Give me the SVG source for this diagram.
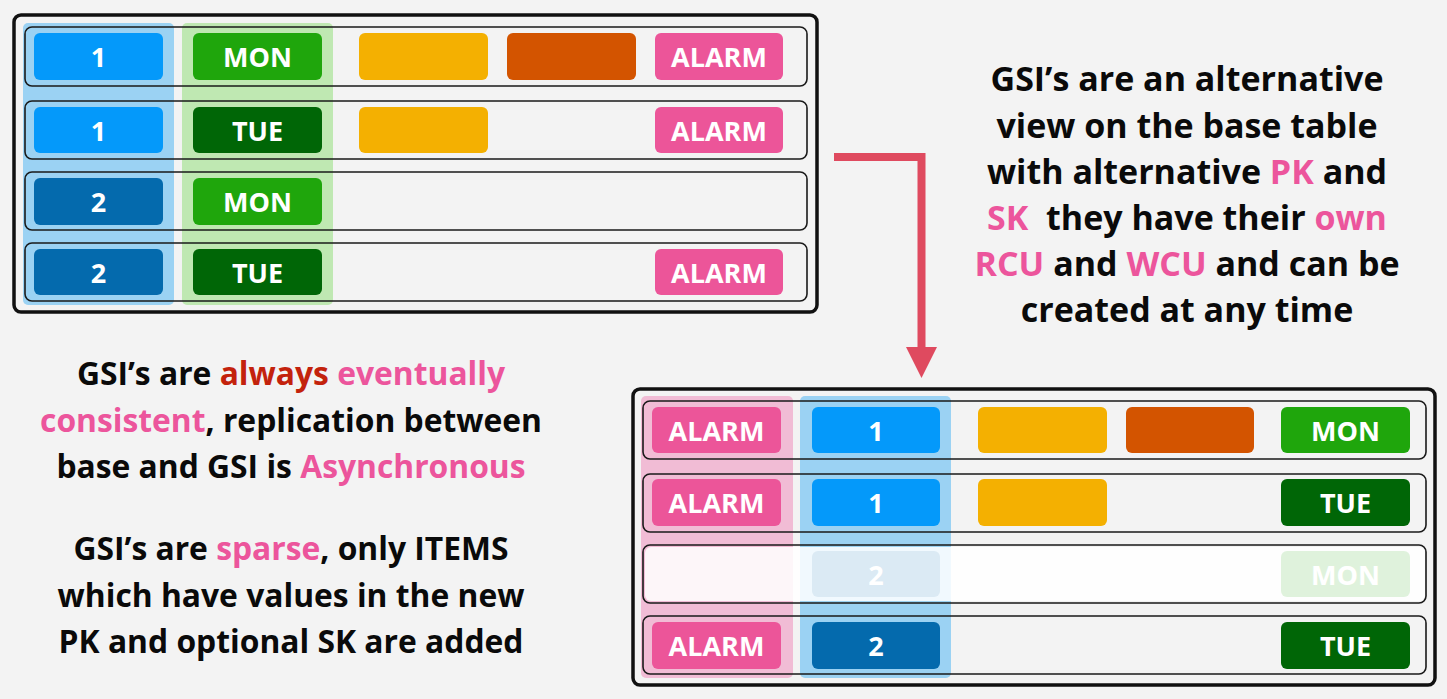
<svg xmlns="http://www.w3.org/2000/svg" width="1447" height="699" viewBox="0 0 1447 699">
<style>
.bg{fill:#f3f3f3}
.outer{fill:none;stroke:#111;stroke-width:3.5}
.row{fill:none;stroke:#1a1a1a;stroke-width:1.6}
.c{stroke:none}
.lb{fill:#0499fa}.db{fill:#046aad}.lg{fill:#1fa60c}.dg{fill:#006606}.ye{fill:#f4b001}.or{fill:#d35400}.pk{fill:#ec5599}
.ct{font-family:"Open Sans","DejaVu Sans",sans-serif;font-weight:700;font-size:27px;fill:#fff;text-anchor:middle;dominant-baseline:central}
.tx{font-family:"Open Sans","DejaVu Sans",sans-serif;font-weight:700;font-size:34px;fill:#0a0a0a;text-anchor:middle}
.tl{font-size:31.8px}
.p{fill:#ec559c}.r{fill:#c3220c}
</style>
<defs>
<marker id="ah" markerUnits="userSpaceOnUse" viewBox="0 0 31 31" markerWidth="31" markerHeight="31" refX="0" refY="15.5" orient="auto">
<path d="M0,0 L31,15.5 L0,31 Z" fill="#df4a5f"/>
</marker>
</defs>
<rect class="bg" x="0" y="0" width="1447" height="699"/>

<g id="base-table">
<rect x="23" y="23" width="151" height="282" rx="5" fill="#9bd2f3"/>
<rect x="182" y="23" width="151" height="282" rx="5" fill="#bfe8b2"/>
<rect class="outer" x="14" y="15" width="803" height="297" rx="7"/>
<rect class="row" x="25" y="27" width="782" height="59" rx="7"/>
<rect class="row" x="25" y="101" width="782" height="58" rx="7"/>
<rect class="row" x="25" y="172" width="782" height="58" rx="7"/>
<rect class="row" x="25" y="243" width="782" height="58" rx="7"/>
<g id="base-row1">
<rect class="c lb" x="34" y="33" width="129" height="47" rx="6"/><text class="ct" x="98.5" y="56.5">1</text>
<rect class="c lg" x="193" y="33" width="129" height="47" rx="6"/><text class="ct" x="257.5" y="56.5">MON</text>
<rect class="c ye" x="359" y="33" width="129" height="47" rx="6"/>
<rect class="c or" x="507" y="33" width="129" height="47" rx="6"/>
<rect class="c pk" x="655" y="33" width="128" height="47" rx="6"/><text class="ct" x="719" y="56.5">ALARM</text>
</g>
<g id="base-row2">
<rect class="c lb" x="34" y="107" width="129" height="46" rx="6"/><text class="ct" x="98.5" y="130">1</text>
<rect class="c dg" x="193" y="107" width="129" height="46" rx="6"/><text class="ct" x="257.5" y="130">TUE</text>
<rect class="c ye" x="359" y="107" width="129" height="46" rx="6"/>
<rect class="c pk" x="655" y="107" width="128" height="46" rx="6"/><text class="ct" x="719" y="130">ALARM</text>
</g>
<g id="base-row3">
<rect class="c db" x="34" y="178" width="129" height="47" rx="6"/><text class="ct" x="98.5" y="201.5">2</text>
<rect class="c lg" x="193" y="178" width="129" height="47" rx="6"/><text class="ct" x="257.5" y="201.5">MON</text>
</g>
<g id="base-row4">
<rect class="c db" x="34" y="249" width="129" height="46" rx="6"/><text class="ct" x="98.5" y="272">2</text>
<rect class="c dg" x="193" y="249" width="129" height="46" rx="6"/><text class="ct" x="257.5" y="272">TUE</text>
<rect class="c pk" x="655" y="249" width="128" height="46" rx="6"/><text class="ct" x="719" y="272">ALARM</text>
</g>
</g>

<g id="gsi-table">
<rect x="641" y="396" width="152" height="282" rx="5" fill="#f1bcd5"/>
<rect x="800" y="396" width="151" height="282" rx="5" fill="#9bd2f3"/>
<rect class="outer" x="633" y="389" width="802" height="296" rx="7"/>
<g id="gsi-row1">
<rect class="c pk" x="652" y="407" width="129" height="46" rx="6"/><text class="ct" x="716.5" y="430">ALARM</text>
<rect class="c lb" x="812" y="407" width="128" height="46" rx="6"/><text class="ct" x="876" y="430">1</text>
<rect class="c ye" x="978" y="407" width="129" height="46" rx="6"/>
<rect class="c or" x="1126" y="407" width="128" height="46" rx="6"/>
<rect class="c lg" x="1281" y="407" width="129" height="46" rx="6"/><text class="ct" x="1345.5" y="430">MON</text>
</g>
<g id="gsi-row2">
<rect class="c pk" x="652" y="479" width="129" height="47" rx="6"/><text class="ct" x="716.5" y="502.5">ALARM</text>
<rect class="c lb" x="812" y="479" width="128" height="47" rx="6"/><text class="ct" x="876" y="502.5">1</text>
<rect class="c ye" x="978" y="479" width="129" height="47" rx="6"/>
<rect class="c dg" x="1281" y="479" width="129" height="47" rx="6"/><text class="ct" x="1345.5" y="502.5">TUE</text>
</g>
<g id="gsi-row3">
<rect class="c db" x="812" y="551" width="128" height="46" rx="6"/><text class="ct" x="876" y="574">2</text>
<rect class="c lg" x="1281" y="551" width="129" height="46" rx="6"/><text class="ct" x="1345.5" y="574">MON</text>
<rect x="645" y="547" width="780" height="54" rx="6" fill="#ffffff" opacity="0.86"/>
</g>
<g id="gsi-row4">
<rect class="c pk" x="652" y="622" width="129" height="47" rx="6"/><text class="ct" x="716.5" y="645.5">ALARM</text>
<rect class="c db" x="812" y="622" width="128" height="47" rx="6"/><text class="ct" x="876" y="645.5">2</text>
<rect class="c dg" x="1281" y="622" width="129" height="47" rx="6"/><text class="ct" x="1345.5" y="645.5">TUE</text>
</g>
<rect class="row" x="643" y="401" width="783" height="58" rx="7"/>
<rect class="row" x="643" y="474" width="783" height="58" rx="7"/>
<rect class="row" x="643" y="545" width="783" height="58" rx="7"/>
<rect class="row" x="643" y="616" width="783" height="58" rx="7"/>
</g>

<g id="connectors">
<path d="M834,157 H921.5 V347" fill="none" stroke="#df4a5f" stroke-width="8" marker-end="url(#ah)"/>
</g>

<g id="text-gsi-view">
<text class="tx" x="1187" y="91">GSI’s are an alternative</text>
<text class="tx" x="1187" y="138">view on the base table</text>
<text class="tx" x="1187" y="184">with alternative <tspan class="p">PK</tspan> and</text>
<text class="tx" x="1187" y="230"><tspan class="p">SK</tspan>&#160; they have their <tspan class="p">own</tspan></text>
<text class="tx" x="1187" y="276"><tspan class="p">RCU</tspan> and <tspan class="p">WCU</tspan> and can be</text>
<text class="tx" x="1187" y="322">created at any time</text>
</g>

<g id="text-consistency">
<text class="tx tl" x="291" y="385">GSI’s are <tspan class="r">always</tspan> <tspan class="p">eventually</tspan></text>
<text class="tx tl" x="291" y="432"><tspan class="p">consistent</tspan>, replication between</text>
<text class="tx tl" x="291" y="478">base and GSI is <tspan class="p">Asynchronous</tspan></text>
</g>

<g id="text-sparse">
<text class="tx tl" x="291" y="560">GSI’s are <tspan class="p">sparse</tspan>, only ITEMS</text>
<text class="tx tl" x="291" y="607">which have values in the new</text>
<text class="tx tl" x="291" y="653">PK and optional SK are added</text>
</g>
</svg>
